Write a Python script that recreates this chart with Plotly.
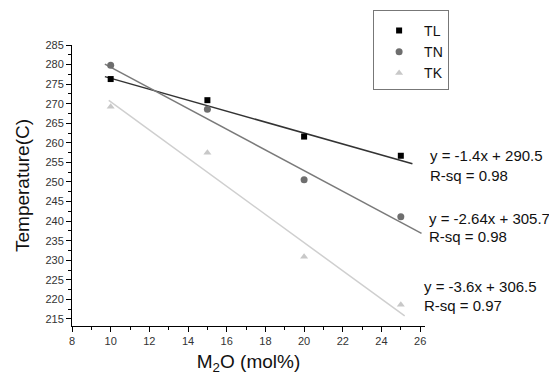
import plotly.graph_objects as go

# Data
x_vals = [10, 15, 20, 25]
TL = [276.3, 270.9, 261.6, 256.7]
TN = [279.8, 268.6, 250.6, 241.1]
TK = [269.2, 257.5, 230.9, 218.6]

series_names = ["TL", "TN", "TK"]
fit_slope = [-1.4, -2.64, -3.6]
fit_intercept = [290.5, 305.7, 306.5]
fit_rsq = [0.98, 0.98, 0.97]
fit_x_start = [9.7, 9.7, 9.9]
fit_x_end = [25.6, 26.07, 25.2]

x_ticks = [8, 10, 12, 14, 16, 18, 20, 22, 24, 26]
y_ticks = [215, 220, 225, 230, 235, 240, 245, 250, 255, 260, 265, 270, 275, 280, 285]

marker_colors = ["#000000", "#6e6e6e", "#c8c8c8"]
line_colors = ["#333333", "#7a7a7a", "#cfcfcf"]
symbols = ["square", "circle", "triangle-up"]
sizes = [6, 7, 7]

fig = go.Figure()

values = [TL, TN, TK]
for i, name in enumerate(series_names):
    xs = [fit_x_start[i], fit_x_end[i]]
    ys = [fit_slope[i] * v + fit_intercept[i] for v in xs]
    fig.add_trace(go.Scatter(x=xs, y=ys, mode="lines",
                             line=dict(color=line_colors[i], width=1.5),
                             showlegend=False, hoverinfo="skip"))

for i, name in enumerate(series_names):
    fig.add_trace(go.Scatter(x=x_vals, y=values[i], mode="markers", name=name,
                             marker=dict(symbol=symbols[i], size=sizes[i],
                                         color=marker_colors[i])))

# equation annotations (paper coordinates, to the right of the plot)
ann_pos = [(1.0085, 0.6085, 0.537), (1.0057, 0.384, 0.320), (0.9915, 0.1388, 0.0712)]
for i in range(3):
    ax, ey, ry = ann_pos[i]
    eq = f"y = {fit_slope[i]:g}x + {fit_intercept[i]:g}"
    fig.add_annotation(x=ax, y=ey, xref="paper", yref="paper", text=eq, showarrow=False,
                       xanchor="left", yanchor="middle",
                       font=dict(size=15, color="#111111"))
    fig.add_annotation(x=ax, y=ry, xref="paper", yref="paper", text=f"R-sq = {fit_rsq[i]:.2f}",
                       showarrow=False, xanchor="left", yanchor="middle",
                       font=dict(size=15, color="#111111"))

# page body has an 8px margin, so the figure is 8px smaller and shifted
fig.update_layout(
    width=549, height=368,
    margin=dict(l=64, r=132, t=37, b=50, autoexpand=False),
    paper_bgcolor="white", plot_bgcolor="white",
    font=dict(family="Liberation Sans, Arial, sans-serif", color="#111111"),
    legend=dict(x=0.853, y=1.1246, xanchor="left", yanchor="top",
                bordercolor="#777777", borderwidth=1, bgcolor="white",
                font=dict(size=14), itemwidth=40, tracegroupgap=0,
                entrywidth=40, entrywidthmode="pixels",
                title=dict(text=" ", font=dict(size=3))),
    xaxis=dict(range=[8, 26.25], tickvals=x_ticks, showgrid=False, zeroline=False,
               showline=True, linecolor="black", linewidth=1, automargin=False,
               ticks="outside", ticklen=5, tickcolor="black",
               tickfont=dict(size=11, color="#333333"),
               minor=dict(dtick=1, tick0=8, ticks="outside", ticklen=3, tickcolor="black"),
               title=dict(text="M<sub>2</sub>O (mol%)", font=dict(size=19), standoff=8)),
    yaxis=dict(range=[213.2, 285], tickvals=y_ticks, showgrid=False, zeroline=False,
               showline=True, linecolor="black", linewidth=1, automargin=False,
               ticks="outside", ticklen=5, tickcolor="black",
               tickfont=dict(size=11, color="#333333"),
               minor=dict(dtick=2.5, tick0=215, ticks="outside", ticklen=3, tickcolor="black"),
               title=dict(text="Temperature(C)", font=dict(size=19), standoff=10)),
)

fig.write_html("out.html")
